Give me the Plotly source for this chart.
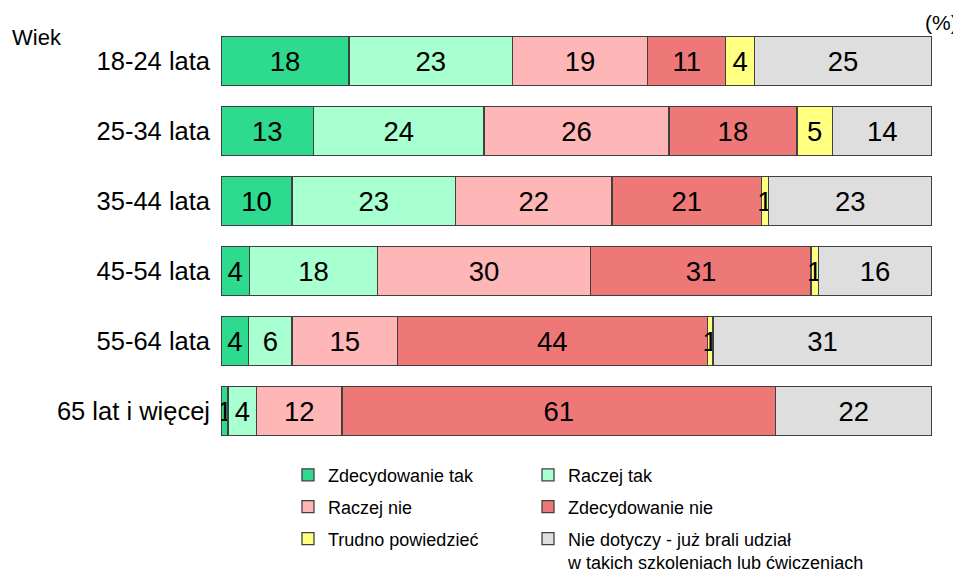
import plotly.graph_objects as go

categories = ["18-24 lata", "25-34 lata", "35-44 lata", "45-54 lata", "55-64 lata", "65 lat i więcej"]
series_names = ["Zdecydowanie tak", "Raczej tak", "Raczej nie", "Zdecydowanie nie",
                "Trudno powiedzieć", "Nie dotyczy - już brali udział<br>w takich szkoleniach lub ćwiczeniach"]
zdecydowanie_tak = [18, 13, 10, 4, 3.9, 1]
raczej_tak = [23, 24, 23, 18, 6.1, 4]
raczej_nie = [19, 26, 22, 30, 14.8, 12]
zdecydowanie_nie = [11, 18, 21, 31, 43.6, 61]
trudno = [4, 5, 1, 1, 0.8, 0]
nie_dotyczy = [25, 14, 23, 16, 30.8, 22]

series_values = [zdecydowanie_tak, raczej_tak, raczej_nie, zdecydowanie_nie, trudno, nie_dotyczy]
colors = ["#2EDB8E", "#A8FFCF", "#FFB6B6", "#EE7878", "#FFFF80", "#DEDEDE"]
legend_ids = ["legend", "legend2", "legend", "legend2", "legend", "legend2"]

FONT = "Liberation Sans, Arial, sans-serif"

fig = go.Figure()
for name, vals, col, lg in zip(series_names, series_values, colors, legend_ids):
    txt = [f"{v:.0f}" if v > 0 else "" for v in vals]
    fig.add_trace(go.Bar(
        y=categories, x=vals, name=name, orientation="h",
        marker=dict(color=col, line=dict(color="#404040", width=1.3)),
        text=txt, textposition="inside", insidetextanchor="middle",
        textangle=0, textfont=dict(size=27.5, color="black", family=FONT),
        legend=lg, legendgroup=name, hoverinfo="skip",
    ))

PW, PH = 711, 420
fig.update_layout(
    barmode="stack", bargap=0.3,
    width=953, height=568,
    margin=dict(l=213, r=29, t=18, b=130, autoexpand=False),
    plot_bgcolor="white", paper_bgcolor="white",
    font=dict(family=FONT, color="black"),
    uniformtext=dict(minsize=27.5, mode="show"),
    xaxis=dict(range=[0, 100], visible=False, showgrid=False, zeroline=False),
    yaxis=dict(autorange="reversed", showgrid=False, zeroline=False, showline=False,
               ticks="", tickfont=dict(size=25.5, color="black"), ticklabelstandoff=10),
    legend=dict(x=0.0942, y=-0.0252, xanchor="left", yanchor="top", orientation="v",
                font=dict(size=18), tracegroupgap=5.5, bgcolor="rgba(0,0,0,0)", valign="top"),
    legend2=dict(x=0.4318, y=-0.0252, xanchor="left", yanchor="top", orientation="v",
                 font=dict(size=18), tracegroupgap=5.5, bgcolor="rgba(0,0,0,0)", valign="top"),
    annotations=[
        dict(text="Wiek", xref="paper", yref="paper", x=(2 - 213) / PW, y=1.0 - 11 / PH,
             xanchor="left", yanchor="middle", showarrow=False, font=dict(size=22)),
        dict(text="(%)", xref="paper", yref="paper", x=(952 - 213) / PW, y=1.0 + 4 / PH,
             xanchor="right", yanchor="middle", showarrow=False, font=dict(size=21)),
    ],
)

fig.write_html("out.html")
